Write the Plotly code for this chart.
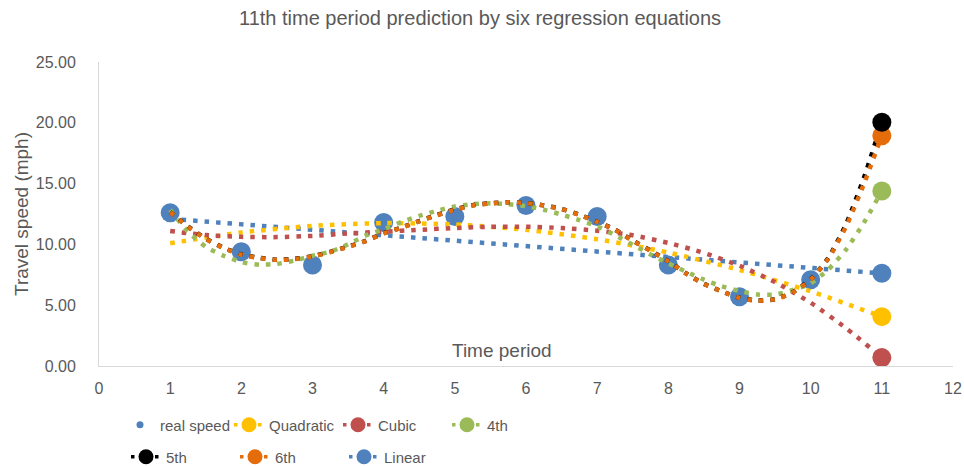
import plotly.graph_objects as go

# ---------------- data ----------------
periods = [1, 2, 3, 4, 5, 6, 7, 8, 9, 10]
real_speed = [12.6, 9.4, 8.3, 11.8, 12.3, 13.2, 12.3, 8.3, 5.7, 7.1]

pred_period = 11
pred_quadratic = 4.06
pred_cubic = 0.69
pred_4th = 14.39
pred_5th = 20.04
pred_6th = 18.94
pred_linear = 7.62

linear_x = [1, 11]
linear_y = [12.1, 7.62]

quad_x = [1, 2, 3, 4, 5, 6, 7, 8, 9, 10, 11]
quad_y = [10.1, 10.98, 11.52, 11.75, 11.64, 11.2, 10.43, 9.33, 7.9, 6.14, 4.06]

cubic_x = [1, 1.5, 2, 2.5, 3, 3.5, 4, 4.5, 5, 5.5, 6, 6.5, 7, 7.5, 8, 8.5, 9, 9.5, 10, 10.5, 11]
cubic_y = [11.1, 10.77, 10.62, 10.6, 10.7, 10.9, 11.05, 11.2, 11.35, 11.45, 11.45, 11.35,
           11.12, 10.75, 10.12, 9.3, 8.25, 6.9, 5.2, 3.1, 0.69]

poly_x = [1, 1.25, 1.5, 1.75, 2, 2.25, 2.5, 2.75, 3, 3.25, 3.5, 3.75, 4, 4.25, 4.5, 4.75,
          5, 5.25, 5.5, 5.75, 6, 6.25, 6.5, 6.75, 7, 7.25, 7.5, 7.75, 8, 8.25, 8.5, 8.75,
          9, 9.25, 9.5, 9.75, 10, 10.25, 10.5, 10.75, 11]
p4_y = [12.83, 11.05, 9.8, 9.07, 8.55, 8.33, 8.4, 8.67, 9.07, 9.4, 10.0, 10.74, 11.25, 11.85,
        12.35, 12.77, 13.12, 13.31, 13.38, 13.3, 13.14, 12.85, 12.45, 12.0, 11.48, 10.76, 9.97,
        9.17, 8.44, 7.76, 7.1, 6.55, 6.17, 5.88, 5.87, 6.25, 6.8, 7.95, 9.6, 11.8, 14.39]
p5_y = [12.66, 11.47, 10.47, 9.72, 9.17, 8.9, 8.74, 8.82, 9.02, 9.39, 9.82, 10.29, 10.92, 11.38,
        11.92, 12.42, 12.87, 13.22, 13.39, 13.47, 13.41, 13.21, 12.92, 12.44, 11.86, 11.21, 10.31,
        9.49, 8.61, 7.61, 6.76, 6.14, 5.61, 5.38, 5.49, 6.07, 7.13, 8.9, 11.7, 15.5, 20.04]
p6_y = [12.64, 11.45, 10.45, 9.7, 9.15, 8.88, 8.72, 8.8, 9.0, 9.37, 9.8, 10.27, 10.9, 11.36,
        11.9, 12.4, 12.85, 13.2, 13.37, 13.46, 13.4, 13.2, 12.91, 12.43, 11.85, 11.2, 10.3,
        9.48, 8.6, 7.6, 6.75, 6.13, 5.6, 5.37, 5.48, 6.05, 7.1, 8.85, 11.5, 15.0, 18.94]

y_ticks = [0, 5, 10, 15, 20, 25]
y_tick_labels = ["0.00", "5.00", "10.00", "15.00", "20.00", "25.00"]
x_ticks = list(range(0, 13))

# ---------------- styling ----------------
BLUE = "#4F81BD"
YELLOW = "#FFC000"
RED = "#C0504D"
GREEN = "#9BBB59"
BLACK = "#000000"
ORANGE = "#E46C0A"
TXT = "#595959"
FONT = "Liberation Sans, Arial, sans-serif"
DASH = "4.5px,7px"
LW = 4.5
MS = 19

fig = go.Figure()

# real data points
fig.add_trace(go.Scatter(x=periods, y=real_speed, mode="markers",
                         marker=dict(color=BLUE, size=MS), showlegend=False, hoverinfo="skip"))

curves = [
    (linear_x, linear_y, BLUE),
    (quad_x, quad_y, YELLOW),
    (cubic_x, cubic_y, RED),
    (poly_x, p4_y, GREEN),
    (poly_x, p5_y, BLACK),
    (poly_x, p6_y, ORANGE),
]
for cx, cy, col in curves:
    fig.add_trace(go.Scatter(x=cx, y=cy, mode="lines",
                             line=dict(color=col, width=LW, dash=DASH, shape="spline", smoothing=0.6),
                             showlegend=False, hoverinfo="skip"))

preds = [
    (pred_linear, BLUE),
    (pred_quadratic, YELLOW),
    (pred_cubic, RED),
    (pred_4th, GREEN),
    (pred_6th, ORANGE),
    (pred_5th, BLACK),
]
for val, col in preds:
    fig.add_trace(go.Scatter(x=[pred_period], y=[val], mode="markers",
                             marker=dict(color=col, size=MS), showlegend=False))

# legend entries
fig.add_trace(go.Scatter(x=[None], y=[None], mode="markers", name="real speed",
                         marker=dict(color=BLUE, size=7), legend="legend"))
legend_items = [
    ("Quadratic", YELLOW, "legend"),
    ("Cubic", RED, "legend"),
    ("4th", GREEN, "legend"),
    ("5th", BLACK, "legend2"),
    ("6th", ORANGE, "legend2"),
    ("Linear", BLUE, "legend2"),
]
for name, col, lg in legend_items:
    fig.add_trace(go.Scatter(x=[None], y=[None], mode="lines+markers", name=name,
                             line=dict(color=col, width=3.5, dash="3.5px,4.5px"),
                             marker=dict(color=col, size=15), legend=lg))

leg_common = dict(orientation="h", entrywidth=64, entrywidthmode="pixels",
                  font=dict(family=FONT, size=15, color=TXT),
                  bgcolor="rgba(0,0,0,0)", xref="container", yref="container",
                  xanchor="left", yanchor="middle")

fig.update_layout(
    width=964, height=466,
    margin=dict(l=99, r=11, t=62, b=100, autoexpand=False),
    paper_bgcolor="white", plot_bgcolor="white",
    font=dict(family=FONT, color=TXT),
    title=dict(text="11th time period prediction by six regression equations",
               font=dict(family=FONT, size=20, color=TXT),
               xref="container", x=0.498, xanchor="center",
               yref="container", y=1 - 18 / 466, yanchor="middle"),
    xaxis=dict(range=[0, 12], tickvals=x_ticks, showgrid=False, zeroline=False,
               showline=True, linecolor="#D9D9D9", linewidth=1,
               ticks="outside", ticklen=8, tickcolor="rgba(0,0,0,0)",
               tickfont=dict(family=FONT, size=16, color=TXT)),
    yaxis=dict(range=[0, 25], tickvals=y_ticks, ticktext=y_tick_labels, showgrid=False,
               zeroline=False, showline=True, linecolor="#D9D9D9", linewidth=1,
               ticks="outside", ticklen=19, tickcolor="rgba(0,0,0,0)",
               tickfont=dict(family=FONT, size=16, color=TXT),
               title=dict(text="Travel speed (mph)", font=dict(family=FONT, size=19, color=TXT),
                          standoff=2)),
    legend=dict(x=120 / 964, y=1 - 425 / 466, **leg_common),
    legend2=dict(x=126 / 964, y=1 - 457 / 466, **leg_common),
    annotations=[dict(text="Time period", xref="paper", yref="paper", x=0.472, y=0.05,
                      xanchor="center", yanchor="middle", showarrow=False,
                      font=dict(family=FONT, size=19, color=TXT))],
)

fig.write_html("out.html", config={"displayModeBar": False},
               post_script="document.body.style.margin='0';")
